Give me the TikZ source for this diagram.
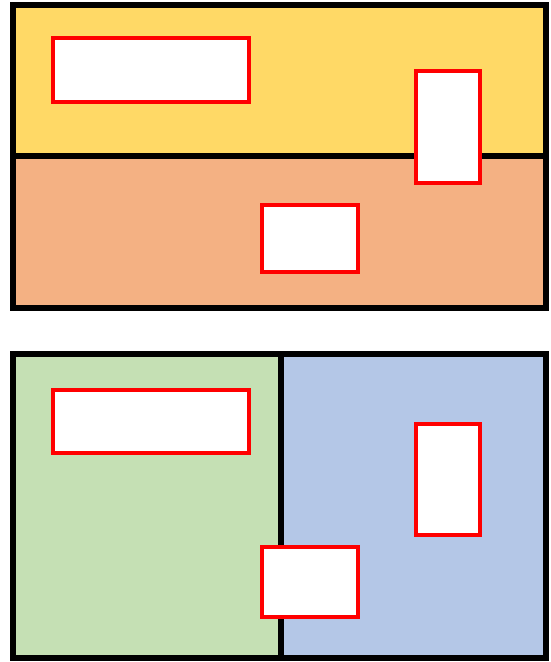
\documentclass[tikz,border=0pt]{standalone}
\definecolor{cyellow}{HTML}{FFD966}
\definecolor{corange}{HTML}{F4B183}
\definecolor{cgreen}{HTML}{C5E0B4}
\definecolor{cblue}{HTML}{B4C7E7}
\definecolor{cred}{HTML}{FF0000}
\begin{document}
\begin{tikzpicture}[x=1bp,y=-1bp,
  panelline/.style={draw=black,line width=6bp},
  redbox/.style={draw=cred,fill=white,line width=4bp,inner sep=0pt,outer sep=0pt}]
\useasboundingbox (0,0) rectangle (551,662);
% top panel
\fill[cyellow] (13,5) rectangle (545.7,156);
\fill[corange] (13,156) rectangle (545.7,308);
\coordinate (tl) at (13,156);
\coordinate (tr) at (545.7,156);
\draw[panelline] (tl) -- (tr);
\draw[panelline] (13,5) rectangle (545.7,308);
\node[redbox,minimum width=196bp,minimum height=63.4bp] (a1) at (150.7,70) {};
\node[redbox,minimum width=64bp,minimum height=111.5bp] (a2) at (448,126.75) {};
\node[redbox,minimum width=96bp,minimum height=67.3bp] (a3) at (310,238.35) {};
% bottom panel
\fill[cgreen] (13,354.3) rectangle (280.7,657.7);
\fill[cblue] (280.7,354.3) rectangle (545.7,657.7);
\coordinate (bt) at (280.7,354.3);
\coordinate (bb) at (280.7,657.7);
\draw[panelline] (bt) -- (bb);
\draw[panelline] (13,354.3) rectangle (545.7,657.7);
\node[redbox,minimum width=196bp,minimum height=63bp] (b1) at (150.7,421.8) {};
\node[redbox,minimum width=64bp,minimum height=111.6bp] (b2) at (448,479.5) {};
\node[redbox,minimum width=96bp,minimum height=69.4bp] (b3) at (310,582) {};
\end{tikzpicture}
\end{document}
